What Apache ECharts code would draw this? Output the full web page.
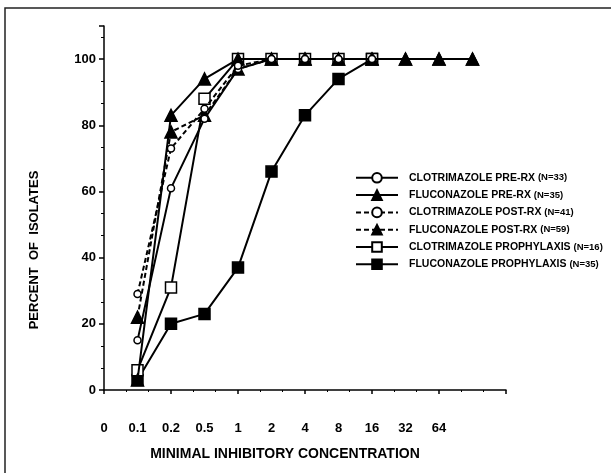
<!DOCTYPE html>
<html><head><meta charset="utf-8">
<script src="https://cdn.jsdelivr.net/npm/echarts@6/dist/echarts.min.js"></script>
<style>html,body{margin:0;padding:0;background:#fff}#c{width:611px;height:473px}</style>
</head><body><div id="c"></div>
<script>
// x tick labels (category positions 0..10)
const tickLabels = ['0', '0.1', '0.2', '0.5', '1', '2', '4', '8', '16', '32', '64'];
// series values, starting at MIC 0.1
const cloPre   = [15, 61, 82, 97, 100, 100, 100, 100];
const fluPre   = [3, 83, 94, 100, 100, 100, 100, 100, 100, 100, 100];
const cloPost  = [29, 73, 85, 98, 100, 100, 100, 100];
const fluPost  = [22, 78, 83, 97, 100, 100, 100, 100, 100, 100, 100];
const cloProph = [6, 31, 88, 100, 100, 100, 100, 100];
const fluProph = [3, 20, 23, 37, 66, 83, 94, 100];
const names = [
  'CLOTRIMAZOLE PRE-RX (N=33)',
  'FLUCONAZOLE PRE-RX (N=35)',
  'CLOTRIMAZOLE POST-RX (N=41)',
  'FLUCONAZOLE POST-RX (N=59)',
  'CLOTRIMAZOLE PROPHYLAXIS (N=16)',
  'FLUCONAZOLE PROPHYLAXIS (N=35)'
];

const FONT = '"Liberation Sans", Arial, sans-serif';
function toPts(arr) { return arr.map((v, i) => [i + 1, v]); }
function mk(name, arr, symbol, filled, dashed, size, z) {
  return {
    name: name, type: 'line', data: toPts(arr), z: z,
    symbol: symbol, symbolSize: size, showSymbol: true,
    lineStyle: { color: '#000', width: 2, type: dashed ? [5, 3] : 'solid' },
    itemStyle: { color: filled ? '#000' : '#fff', borderColor: '#000', borderWidth: 1.5 },
    emphasis: { disabled: true }
  };
}

const chart = echarts.init(document.getElementById('c'), null, { renderer: 'canvas' });
chart.setOption({
  animation: false,
  backgroundColor: '#fff',
  graphic: [{
    type: 'polyline', shape: { points: [[5, 473], [5, 8], [611, 8]] },
    style: { stroke: '#222', lineWidth: 1.5, fill: null }
  }],
  grid: { left: 104, right: 105, top: 26, bottom: 83, containLabel: false, outerBoundsMode: 'none' },
  legend: {
    orient: 'vertical', left: 350, top: 167,
    itemWidth: 42, itemHeight: 12, itemGap: 5.7,
    formatter: function (n) {
      const k = n.indexOf(' (');
      return '{a|' + n.slice(0, k) + '} {b|' + n.slice(k + 1) + '}';
    },
    textStyle: {
      fontFamily: FONT, fontWeight: 'bold', fontSize: 10.5, color: '#000', padding: [0, 0, 0, 6],
      rich: {
        a: { fontFamily: FONT, fontWeight: 'bold', fontSize: 10.5, color: '#000' },
        b: { fontFamily: FONT, fontWeight: 'bold', fontSize: 9.5, color: '#000' }
      }
    },
    data: names
  },
  xAxis: [{
    type: 'value', min: 0, max: 12, interval: 2, position: 'bottom',
    axisLine: { show: true, lineStyle: { color: '#000', width: 1.5 } },
    axisTick: { show: true, length: 4, lineStyle: { color: '#000', width: 1.5 } },
    minorTick: { show: true, splitNumber: 3, length: 2, lineStyle: { color: '#000', width: 1 } },
    axisLabel: { show: false }, splitLine: { show: false }
  }, {
    type: 'value', min: 0, max: 12, interval: 1, position: 'bottom', offset: 0,
    axisLine: { show: false }, axisTick: { show: false }, splitLine: { show: false },
    axisLabel: {
      margin: 32, color: '#000', fontFamily: FONT, fontWeight: 'bold', fontSize: 13,
      formatter: v => (tickLabels[v] !== undefined ? tickLabels[v] : '')
    },
    name: 'MINIMAL INHIBITORY CONCENTRATION', nameLocation: 'middle', nameGap: 57,
    nameTextStyle: { color: '#000', fontFamily: FONT, fontWeight: 'bold', fontSize: 14, padding: [0, 40, 0, 0] }
  }],
  yAxis: {
    type: 'value', min: 0, max: 110, interval: 20,
    axisLine: { show: true, lineStyle: { color: '#000', width: 1.5 } },
    axisTick: { show: true, length: 5, lineStyle: { color: '#000', width: 1.5 } },
    minorTick: { show: true, splitNumber: 3, length: 3, lineStyle: { color: '#000', width: 1 } },
    splitLine: { show: false },
    axisLabel: {
      margin: 8, color: '#000', fontFamily: FONT, fontWeight: 'bold', fontSize: 13,
      formatter: v => (v > 100 ? '' : String(v))
    },
    name: 'PERCENT  OF  ISOLATES', nameLocation: 'middle', nameGap: 63, nameRotate: 90,
    nameTextStyle: { color: '#000', fontFamily: FONT, fontWeight: 'bold', fontSize: 13, padding: [0, 84, 0, 0] }
  },
  series: [
    mk(names[5], fluProph, 'rect', true, false, 11, 2),
    mk(names[4], cloProph, 'rect', false, false, 11, 3),
    mk(names[1], fluPre, 'triangle', true, false, 12, 4),
    mk(names[3], fluPost, 'triangle', true, true, 12, 5),
    mk(names[0], cloPre, 'circle', false, false, 7, 6),
    mk(names[2], cloPost, 'circle', false, true, 7, 7)
  ]
});
</script></body></html>
